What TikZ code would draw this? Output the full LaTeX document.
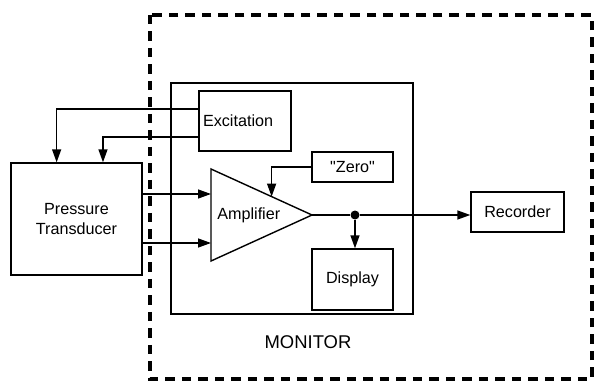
\documentclass[tikz,border=0pt]{standalone}
\usepackage{fontspec}
\setmainfont{Liberation Sans}
\usetikzlibrary{positioning,arrows.meta,shapes.geometric,calc}

\begin{document}
\begin{tikzpicture}[
    x=0.02cm,y=-0.02cm,
    >={Triangle[length=2.6mm,width=1.8mm]},
    blk/.style={draw=black,line width=0.8pt,inner sep=0.08cm,
      font=\fontsize{9.2}{11.3}\selectfont},
    amp/.style={draw=black,line width=0.8pt,isosceles triangle,
      isosceles triangle stretches,minimum width=1.84cm,
      minimum height=2.02cm,inner sep=0pt,outer sep=0pt,
      font=\fontsize{9.2}{11.3}\selectfont},
    flow/.style={draw=black,line width=0.8pt,->},
    wire/.style={draw=black,line width=0.8pt},
    jdot/.style={circle,fill=black,inner sep=0pt,minimum size=0.18cm},
    fence/.style={draw=black,line width=2.5pt,
      dash pattern=on 0.19cm off 0.14cm}
  ]
  \useasboundingbox (0,0) rectangle (598,385);
  \draw[fence] (150,15) rectangle (592,379);
  \node[blk,minimum width=4.84cm,minimum height=4.62cm] (mon) at (292,198.5) {};
  \node[blk,text width=1.68cm,minimum height=1.2cm,align=left] (exc)
    at (245,121) {Excitation};
  \node[blk,minimum width=2.62cm,minimum height=2.24cm,align=center] (pt)
    at (76.5,219) {Pressure\\Transducer};
  \node[amp,anchor=apex] (amp) at (312,215) {Amplifier};
  \node[blk,minimum width=1.62cm,minimum height=0.6cm] (zero)
    at (352.5,167) {\textquotedbl Zero\textquotedbl};
  \node[blk,minimum width=1.62cm,minimum height=1.22cm] (disp)
    at (352.5,279.5) {Display};
  \node[blk,minimum width=1.86cm,minimum height=0.8cm] (rec)
    at (517.5,212) {Recorder};
  \node[jdot] (jn) at (355,215) {};
  \node[font=\fontsize{10.5}{12}\selectfont] (mlbl) at (308,342) {MONITOR};

  \coordinate (e1) at ($(exc.west)+(0,-12)$);
  \coordinate (e2) at ($(exc.west)+(0,16)$);
  \coordinate (a1) at (211,194);
  \coordinate (a2) at (211,243);
  \coordinate (zin) at ($(amp.apex)!0.4!(amp.left corner)$);

  \draw[flow] (e1) -| ($(pt.north west)!0.35!(pt.north east)$);
  \draw[flow] (e2) -| ($(pt.north west)!0.7!(pt.north east)$);
  \draw[flow] (pt.east |- a1) -- (a1);
  \draw[flow] (pt.east |- a2) -- (a2);
  \draw[flow] (zero.west) -| (zin);
  \draw[wire] (amp.apex) -- (jn);
  \draw[flow] (jn) -- (rec.west |- jn);
  \draw[flow] (jn) -- (jn |- disp.north);
\end{tikzpicture}
\end{document}
